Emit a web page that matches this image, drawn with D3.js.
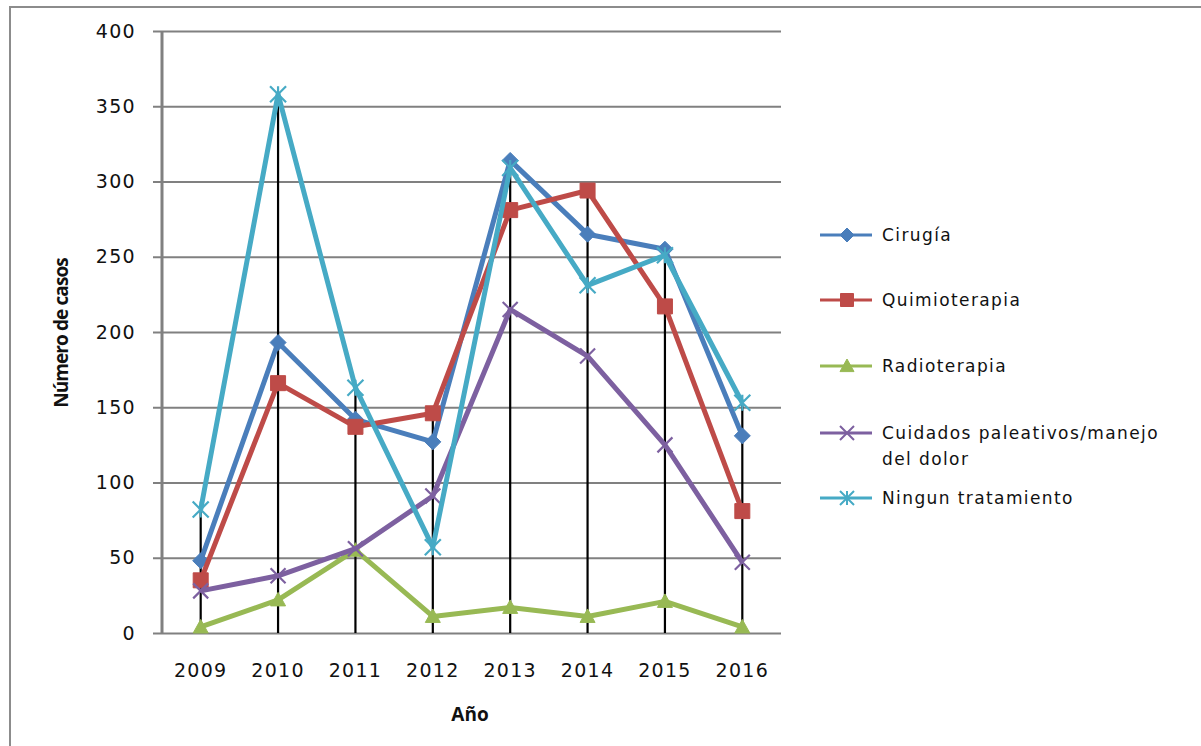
<!DOCTYPE html>
<html lang="es">
<head>
    <meta charset="UTF-8">
    <title>Número de casos por año</title>
    <script src="https://d3js.org/d3.v7.min.js"></script>
    <style>
        body {
            margin: 0;
            background: #fff;
            overflow: hidden;
        }
        text {
            font-family: 'DejaVu Sans', sans-serif;
            fill: #111;
        }
    </style>
</head>
<body>
    <script>
        const years = ["2009", "2010", "2011", "2012", "2013", "2014", "2015", "2016"];
        const yTicks = [0, 50, 100, 150, 200, 250, 300, 350, 400];

        const cirugia = [48, 193, 142, 127, 314, 265, 255, 131];
        const quimioterapia = [35, 166, 137, 146, 281, 294, 217, 81];
        const radioterapia = [4, 22, 55, 11, 17, 11, 21, 4];
        const cuidados = [28, 38, 56, 91, 215, 184, 125, 47];
        const ninguno = [82, 358, 163, 57, 309, 231, 251, 153];

        const seriesNames = ["Cirugía", "Quimioterapia", "Radioterapia", "Cuidados paleativos/manejo del dolor", "Ningun tratamiento"];
        const seriesColors = ["#4a7ebb", "#be4b48", "#98b954", "#7d60a0", "#46aac5"];
        const seriesMarkers = ["diamond", "square", "triangle", "x", "asterisk"];

        const series = [cirugia, quimioterapia, radioterapia, cuidados, ninguno].map((values, i) => ({
            name: seriesNames[i],
            color: seriesColors[i],
            marker: seriesMarkers[i],
            values: values
        }));

        const width = 1201;
        const height = 746;
        const margin = { top: 31, left: 162, right: 420, bottom: 113 };

        const svg = d3.select("body")
            .append("svg")
            .attr("width", width)
            .attr("height", height);

        // outer frame
        svg.append("rect")
            .attr("x", 10)
            .attr("y", 7)
            .attr("width", 1300)
            .attr("height", 900)
            .attr("fill", "none")
            .attr("stroke", "#8c8c8c")
            .attr("stroke-width", 2);

        const x = d3.scalePoint()
            .domain(years)
            .range([margin.left, width - margin.right])
            .padding(0.5);

        const y = d3.scaleLinear()
            .domain([0, 400])
            .range([height - margin.bottom, margin.top]);

        // gridlines + y ticks
        const yAxis = svg.append("g")
            .attr("transform", `translate(${margin.left},0)`)
            .call(d3.axisLeft(y)
                .tickValues(yTicks)
                .tickSize(-(width - margin.right - margin.left))
                .tickSizeOuter(0)
                .tickPadding(26));
        yAxis.select(".domain").remove();
        yAxis.selectAll(".tick line")
            .attr("x1", -9)
            .attr("stroke", "#808080")
            .attr("stroke-width", 2);
        yAxis.selectAll(".tick text")
            .style("font-size", "19px")
            .style("letter-spacing", "1.3px")
            .attr("fill", "#111");

        // y axis line
        svg.append("line")
            .attr("x1", margin.left).attr("x2", margin.left)
            .attr("y1", y(400)).attr("y2", y(0))
            .attr("stroke", "#808080")
            .attr("stroke-width", 3);

        // x labels
        svg.append("g")
            .selectAll("text")
            .data(years)
            .join("text")
            .attr("x", d => x(d))
            .attr("y", 677)
            .attr("text-anchor", "middle")
            .style("font-size", "19px")
            .style("letter-spacing", "1.3px")
            .text(d => d);

        // drop lines
        svg.append("g")
            .selectAll("line")
            .data(years)
            .join("line")
            .attr("x1", d => x(d)).attr("x2", d => x(d))
            .attr("y1", (d, i) => y(d3.max(series, s => s.values[i])))
            .attr("y2", y(0))
            .attr("stroke", "#000")
            .attr("stroke-width", 2.2);

        function markerPath(type, size) {
            const s = size / 2;
            if (type === "diamond") return `M0,${-s}L${s},0L0,${s}L${-s},0Z`;
            if (type === "square") return `M${-s},${-s}H${s}V${s}H${-s}Z`;
            if (type === "triangle") return `M0,${-s}L${s},${s * 0.8}H${-s}Z`;
            if (type === "x") return `M${-s},${-s}L${s},${s}M${-s},${s}L${s},${-s}`;
            return `M${-s},${-s}L${s},${s}M${-s},${s}L${s},${-s}M0,${-s}V${s}`;
        }

        const markerSize = { diamond: 16, square: 15, triangle: 15, x: 15, asterisk: 16 };

        const line = d3.line()
            .x((d, i) => x(years[i]))
            .y(d => y(d));

        const groups = svg.append("g")
            .selectAll("g")
            .data(series)
            .join("g");

        groups.append("path")
            .attr("d", d => line(d.values))
            .attr("fill", "none")
            .attr("stroke", d => d.color)
            .attr("stroke-width", 5)
            .attr("stroke-linejoin", "round");

        groups.each(function (s) {
            const filled = s.marker === "diamond" || s.marker === "square" || s.marker === "triangle";
            d3.select(this).selectAll(".mk")
                .data(s.values)
                .join("path")
                .attr("class", "mk")
                .attr("transform", (d, i) => `translate(${x(years[i])},${y(d)})`)
                .attr("d", markerPath(s.marker, markerSize[s.marker]))
                .attr("fill", filled ? s.color : "none")
                .attr("stroke", s.color)
                .attr("stroke-width", filled ? 1 : 2.2);
        });

        // legend
        const legendY = [235, 300, 366, 433, 498];
        const legend = svg.append("g")
            .selectAll("g")
            .data(series)
            .join("g")
            .attr("transform", (d, i) => `translate(820,${legendY[i]})`);

        legend.append("line")
            .attr("x1", 0).attr("x2", 52)
            .attr("stroke", d => d.color)
            .attr("stroke-width", 3);

        legend.append("path")
            .attr("transform", "translate(27,0)")
            .attr("d", d => markerPath(d.marker, d.marker === "square" ? 13 : 14))
            .attr("fill", d => (d.marker === "x" || d.marker === "asterisk") ? "none" : d.color)
            .attr("stroke", d => d.color)
            .attr("stroke-width", d => (d.marker === "x" || d.marker === "asterisk") ? 2 : 1);

        legend.append("text")
            .attr("x", 62)
            .attr("y", 6)
            .style("font-size", "17px")
            .style("letter-spacing", "1.4px")
            .each(function (d) {
                const t = d3.select(this);
                if (d.name.startsWith("Cuidados")) {
                    t.append("tspan").attr("x", 62).text("Cuidados paleativos/manejo");
                    t.append("tspan").attr("x", 62).attr("dy", 26).text("del dolor");
                } else {
                    t.text(d.name);
                }
            });

        // axis titles
        svg.append("text")
            .attr("transform", `translate(68,333) rotate(-90)`)
            .attr("text-anchor", "middle")
            .style("font-family", "'Open Sans', sans-serif")
            .style("font-size", "19px")
            .style("font-weight", "700")
            .style("letter-spacing", "-0.9px")
            .attr("fill", "#000")
            .text("Número de casos");

        svg.append("text")
            .attr("x", 470)
            .attr("y", 721)
            .attr("text-anchor", "middle")
            .style("font-family", "'Open Sans', sans-serif")
            .style("font-size", "19px")
            .style("font-weight", "700")
            .attr("fill", "#000")
            .text("Año");
    </script>
</body>
</html>
